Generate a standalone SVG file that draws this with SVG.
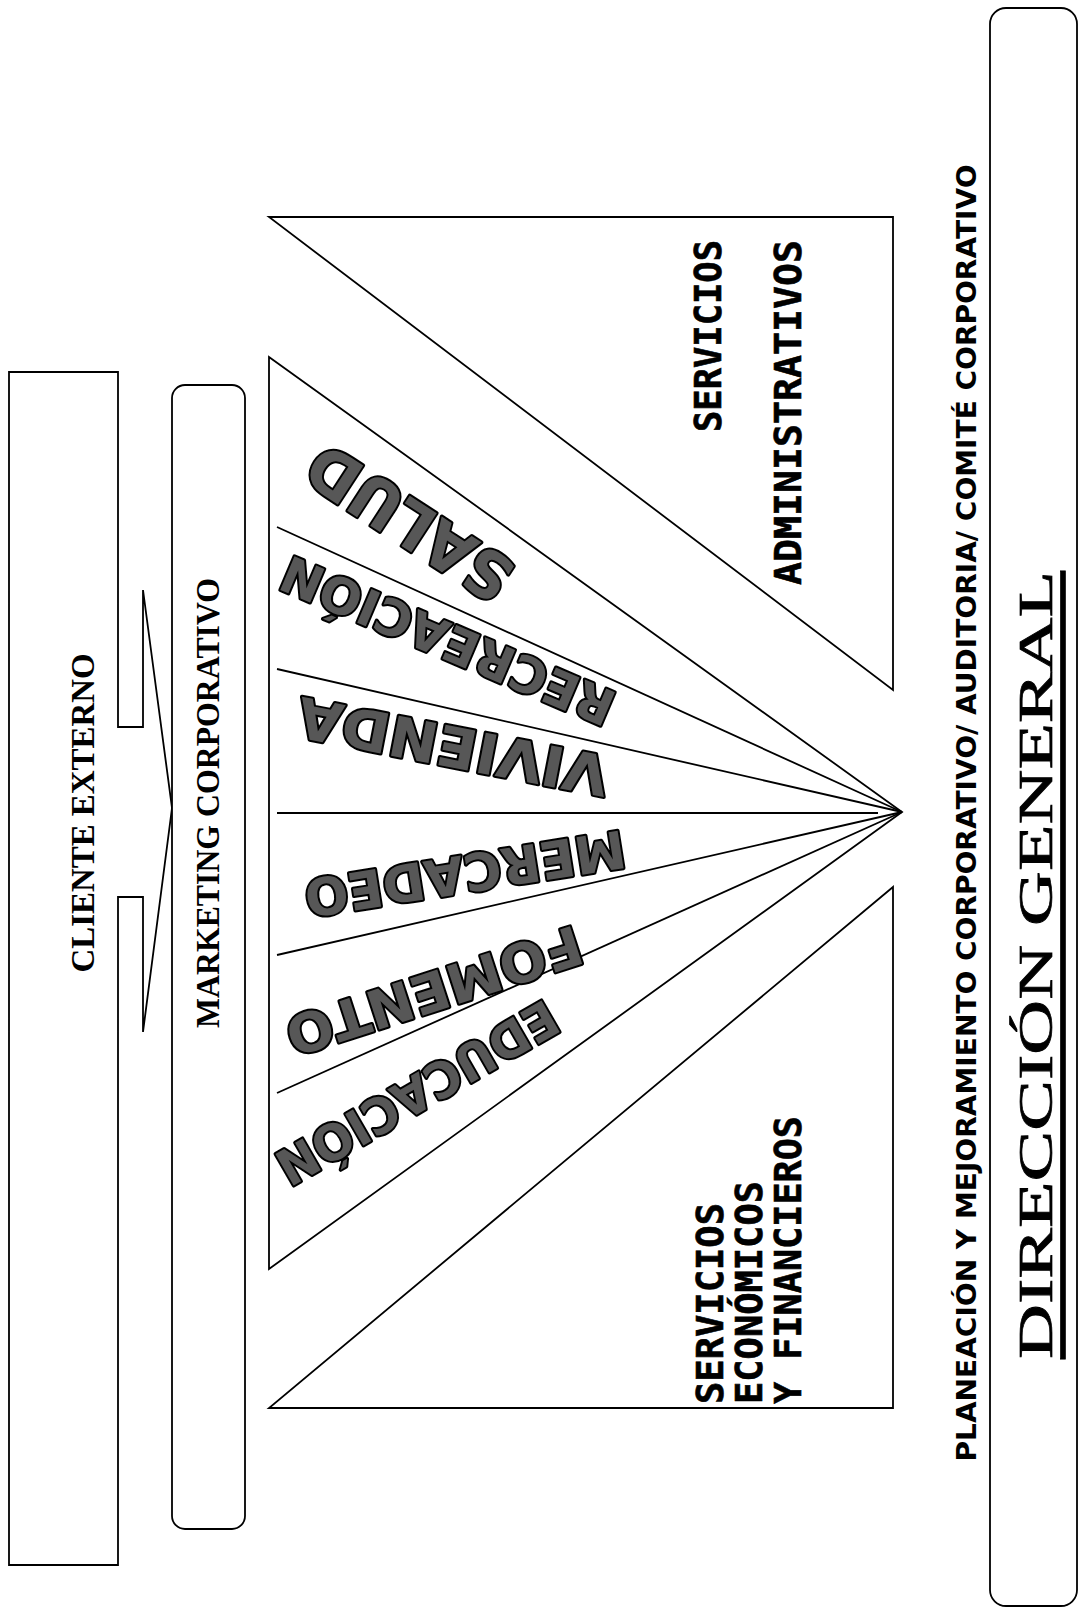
<svg xmlns="http://www.w3.org/2000/svg" width="1081" height="1614" viewBox="0 0 1081 1614">
<style>
.ln{fill:none;stroke:#000;stroke-width:1.8;stroke-linejoin:miter}
.box{fill:#fff;stroke:#000;stroke-width:1.8}
.serif{font-family:"Liberation Serif","Times New Roman",serif;fill:#000}
.mono{font-family:"DejaVu Sans Mono","Liberation Mono",monospace;font-weight:bold;font-size:37px;fill:#000;stroke:#000;stroke-width:0.6}
.sans{font-family:"DejaVu Sans","Liberation Sans",sans-serif;font-weight:bold;fill:#000}
.big{font-family:"DejaVu Sans","Liberation Sans",sans-serif;font-weight:bold;fill:#575757;stroke:#000;stroke-width:4;stroke-linejoin:round;paint-order:stroke}
</style>
<rect width="1081" height="1614" fill="#fff"/>
<g id="cliente-externo">
<path class="box" d="M9,372 H118 V727 H143 V590 L172,808 L143,1032 V897 H118 V1565 H9 Z"/>
<text class="serif" font-weight="bold" font-size="34" text-anchor="middle" dominant-baseline="central" textLength="319" lengthAdjust="spacingAndGlyphs" transform="translate(82,813) rotate(-90)">CLIENTE EXTERNO</text>
</g>
<g id="marketing-corporativo">
<rect class="box" x="172" y="385" width="73" height="1144" rx="13"/>
<text class="serif" font-weight="bold" font-size="33" text-anchor="middle" dominant-baseline="central" textLength="450" lengthAdjust="spacingAndGlyphs" transform="translate(208,803) rotate(-90)">MARKETING CORPORATIVO</text>
</g>
<g id="servicios-administrativos">
<polygon class="box" points="269,217 893,217 893,690"/>
<text class="mono" text-anchor="end" dominant-baseline="central" textLength="192" lengthAdjust="spacingAndGlyphs" transform="translate(708,240) rotate(-90)">SERVICIOS</text>
<text class="mono" text-anchor="end" dominant-baseline="central" textLength="345" lengthAdjust="spacingAndGlyphs" transform="translate(788,240) rotate(-90)">ADMINISTRATIVOS</text>
</g>
<g id="servicios-economicos">
<polygon class="box" points="893,887 893,1408 269,1408"/>
<text class="mono" text-anchor="start" dominant-baseline="central" textLength="201" lengthAdjust="spacingAndGlyphs" transform="translate(710,1404) rotate(-90)">SERVICIOS</text>
<text class="mono" text-anchor="start" dominant-baseline="central" textLength="223" lengthAdjust="spacingAndGlyphs" transform="translate(749,1404) rotate(-90)">ECONÓMICOS</text>
<text class="mono" text-anchor="start" dominant-baseline="central" textLength="288" lengthAdjust="spacingAndGlyphs" transform="translate(788,1404) rotate(-90)">Y FINANCIEROS</text>
</g>
<g id="abanico">
<polygon class="box" points="269,357 902,812 269,1269"/>
</g>
<g id="connectors">
<line class="ln" x1="277" y1="527" x2="902" y2="812"/>
<line class="ln" x1="277" y1="669" x2="902" y2="812"/>
<line class="ln" x1="277" y1="813" x2="878" y2="813"/>
<line class="ln" x1="277" y1="955" x2="902" y2="812"/>
<line class="ln" x1="277" y1="1093" x2="902" y2="812"/>
</g>
<g id="salud">
<text class="big" font-size="64" text-anchor="middle" dominant-baseline="central" textLength="232" lengthAdjust="spacingAndGlyphs" transform="translate(410,522) rotate(213)">SALUD</text>
</g>
<g id="recreacion">
<text class="big" font-size="50" text-anchor="middle" dominant-baseline="central" textLength="357" lengthAdjust="spacingAndGlyphs" transform="translate(448,640) rotate(203)">RECREACIÓN</text>
</g>
<g id="vivienda">
<text class="big" font-size="56" text-anchor="middle" dominant-baseline="central" textLength="316" lengthAdjust="spacingAndGlyphs" transform="translate(453,746) rotate(191)">VIVIENDA</text>
</g>
<g id="mercadeo">
<text class="big" font-size="52" text-anchor="middle" dominant-baseline="central" textLength="324" lengthAdjust="spacingAndGlyphs" transform="translate(465,873) rotate(171)">MERCADEO</text>
</g>
<g id="fomento">
<text class="big" font-size="54" text-anchor="middle" dominant-baseline="central" textLength="308" lengthAdjust="spacingAndGlyphs" transform="translate(434,990) rotate(162)">FOMENTO</text>
</g>
<g id="educacion">
<text class="big" font-size="50" text-anchor="middle" dominant-baseline="central" textLength="316" lengthAdjust="spacingAndGlyphs" transform="translate(417,1092) rotate(150)">EDUCACIÓN</text>
</g>
<g id="planeacion">
<text class="sans" font-size="27" text-anchor="middle" dominant-baseline="central" textLength="1297" lengthAdjust="spacingAndGlyphs" transform="translate(966,813) rotate(-90)">PLANEACIÓN Y MEJORAMIENTO CORPORATIVO/ AUDITORIA/ COMITÉ CORPORATIVO</text>
</g>
<g id="direccion-general">
<rect class="box" x="990" y="8" width="87" height="1598" rx="16"/>
<text class="serif" font-size="49" stroke="#000" stroke-width="0.7" text-anchor="middle" dominant-baseline="central" textLength="788" lengthAdjust="spacingAndGlyphs" text-decoration="underline" transform="translate(1035,965) rotate(-90)">DIRECCIÓN GENERAL</text>
</g>
</svg>
